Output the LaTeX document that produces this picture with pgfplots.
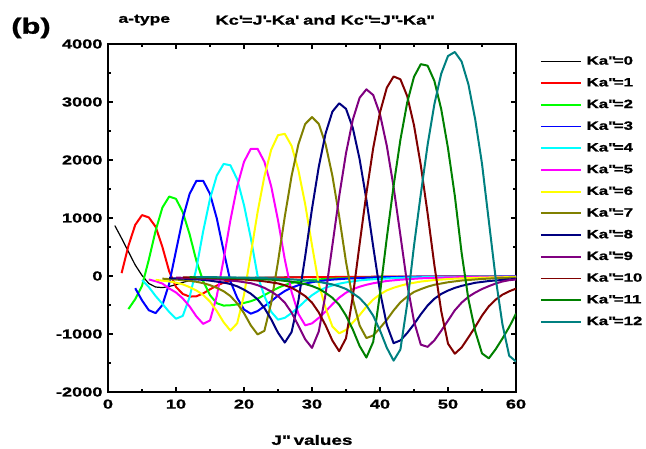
\documentclass[border=0pt]{standalone}
\usepackage{pgfplots}
\pgfplotsset{compat=1.18}
\usepackage{fontspec}
\setmainfont{Liberation Sans}[FakeStretch=1.4, BoldFeatures={FakeBold=1.2}]
\definecolor{kared}{RGB}{255,0,0}
\definecolor{kalime}{RGB}{0,255,0}
\definecolor{kablue}{RGB}{0,0,255}
\definecolor{kacyan}{RGB}{0,255,255}
\definecolor{kamagenta}{RGB}{255,0,255}
\definecolor{kayellow}{RGB}{255,255,0}
\definecolor{kaolive}{RGB}{128,128,0}
\definecolor{kanavy}{RGB}{0,0,128}
\definecolor{kapurple}{RGB}{128,0,128}
\definecolor{kadarkred}{RGB}{128,0,0}
\definecolor{kagreen}{RGB}{0,128,0}
\definecolor{kateal}{RGB}{0,128,128}
\newcommand{\fsz}[1]{\bfseries\fontsize{#1}{#1}\selectfont}
\newcommand{\dq}{\textquotedbl}
\newcommand{\sq}{\textquotesingle}

\begin{document}
\begin{tikzpicture}[x=1bp,y=1bp]
\useasboundingbox (0,0) rectangle (646,449);
\begin{axis}[
  at={(108bp,57bp)}, anchor=south west,
  scale only axis, width=408bp, height=348bp,
  xmin=0, xmax=60, ymin=-2000, ymax=4000,
  xtick={0,10,...,60}, ytick={-2000,-1000,...,4000},
  minor x tick num=1, minor y tick num=1,
  tick align=inside, tick pos=both,
  major tick length=5bp, minor tick length=3bp,
  tick style={black, line width=1.4bp},
  axis line style={line width=1.8bp},
  scaled y ticks=false,
  /pgf/number format/assume math mode=true,
  /pgf/number format/1000 sep={},
  tick label style={font=\fsz{13bp}},
  xticklabel style={yshift=-4bp},
  yticklabel style={xshift=-2bp},
  xlabel={J\dq{} values},
  xlabel style={font=\fsz{13.5bp}, at={(axis description cs:0.5,0)}, anchor=center, yshift=-48bp},
  legend style={at={(1.0507,0.9716)}, anchor=north west, draw=none, fill=none,
    font=\fsz{12bp}, row sep=10.9bp, column sep=5bp,
    nodes={inner sep=0pt, text height=8.6bp, text depth=2.2bp}},
  legend cell align=left,
  legend image code/.code={\draw[#1, line width=1.8bp] (0bp,0bp) -- (40bp,0bp);},
  every axis plot/.append style={line width=2bp, line join=round},
]
\addplot[black, line width=1.2bp] coordinates {(1,870)(2,650)(3,420)(4,190)(5,10)(6,-130)(7,-190)(8,-200)(9,-180)(10,-150)(11,-110)(12,-80)(13,-60)(15,-40)(20,-25)(30,-15)(40,-10)(50,-8)(60,-5)};
\addlegendentry{Ka\dq=0}
\addplot[kared] coordinates {(2,50)(3,520)(4,880)(5,1050)(6,1010)(7,850)(8,500)(9,80)(10,-190)(11,-310)(12,-355)(13,-350)(14,-300)(15,-230)(16,-165)(17,-115)(18,-85)(19,-65)(20,-50)(22,-38)(25,-28)(30,-20)(40,-12)(50,-8)(60,-5)};
\addlegendentry{Ka\dq=1}
\addplot[kalime] coordinates {(3,-570)(4,-400)(5,-170)(6,280)(7,780)(8,1180)(9,1370)(10,1330)(11,1100)(12,720)(13,260)(14,-90)(15,-330)(16,-470)(17,-510)(18,-505)(19,-490)(20,-465)(21,-435)(22,-390)(23,-330)(24,-265)(25,-205)(26,-155)(27,-120)(28,-95)(30,-65)(33,-45)(38,-30)(45,-20)(60,-12)};
\addlegendentry{Ka\dq=2}
\addplot[kablue] coordinates {(4,-210)(5,-420)(6,-590)(7,-640)(8,-500)(9,-130)(10,433)(11,992)(12,1415)(13,1641)(14,1641)(15,1415)(16,992)(17,433)(18,-91)(19,-377)(20,-578)(21,-650)(22,-605)(23,-520)(24,-436)(25,-338)(26,-260)(27,-202)(28,-159)(29,-130)(30,-107)(31,-88)(33,-62)(35,-46)(38,-29)(41,-20)(46,-12)(60,-8)};
\addlegendentry{Ka\dq=3}
\addplot[kacyan] coordinates {(5,-70)(6,-190)(7,-345)(8,-480)(9,-620)(10,-737)(11,-688)(12,-365)(13,132)(14,774)(15,1330)(16,1732)(17,1932)(18,1909)(19,1667)(20,1222)(21,655)(22,0)(23,-345)(24,-617)(25,-752)(26,-722)(27,-638)(28,-540)(29,-429)(30,-331)(31,-255)(32,-201)(33,-163)(34,-133)(35,-110)(37,-76)(39,-56)(42,-36)(45,-24)(50,-14)(60,-10)};
\addlegendentry{Ka\dq=4}
\addplot[kamagenta] coordinates {(6,-60)(7,-90)(8,-130)(9,-215)(10,-284)(11,-387)(12,-525)(13,-697)(14,-826)(15,-765)(16,-344)(17,285)(18,962)(19,1545)(20,1969)(21,2192)(22,2192)(23,1969)(24,1545)(25,962)(26,285)(27,-275)(28,-653)(29,-850)(30,-817)(31,-722)(32,-611)(33,-486)(34,-374)(35,-288)(36,-228)(37,-185)(38,-151)(39,-125)(41,-86)(43,-64)(46,-40)(49,-27)(54,-15)(60,-12)};
\addlegendentry{Ka\dq=5}
\addplot[kayellow] coordinates {(7,-67)(8,-80)(9,-93)(10,-115)(11,-144)(12,-192)(13,-250)(14,-326)(15,-442)(16,-605)(17,-797)(18,-941)(19,-816)(20,-326)(21,378)(22,1102)(23,1719)(24,2176)(25,2428)(26,2451)(27,2243)(28,1825)(29,1235)(30,529)(31,-139)(32,-554)(33,-871)(34,-988)(35,-930)(36,-802)(37,-673)(38,-530)(39,-406)(40,-317)(41,-248)(42,-203)(43,-168)(44,-137)(46,-96)(48,-70)(51,-46)(55,-28)(60,-18)};
\addlegendentry{Ka\dq=6}
\addplot[kaolive] coordinates {(8,-46)(10,-61)(12,-84)(13,-100)(14,-123)(15,-158)(16,-205)(17,-262)(18,-346)(19,-473)(20,-641)(21,-851)(22,-1008)(23,-945)(24,-462)(25,244)(26,1025)(27,1726)(28,2271)(29,2621)(30,2740)(31,2621)(32,2271)(33,1726)(34,1025)(35,244)(36,-400)(37,-853)(38,-1070)(39,-1026)(40,-896)(41,-756)(42,-594)(43,-454)(44,-356)(45,-275)(46,-227)(47,-184)(48,-151)(50,-108)(52,-78)(55,-51)(58,-33)(60,-27)};
\addlegendentry{Ka\dq=7}
\addplot[kanavy] coordinates {(9,-38)(11,-46)(13,-58)(14,-68)(15,-80)(16,-97)(17,-113)(18,-138)(19,-178)(20,-236)(21,-305)(22,-403)(23,-552)(24,-748)(25,-978)(26,-1148)(27,-966)(28,-426)(29,340)(30,1159)(31,1886)(32,2459)(33,2834)(34,2978)(35,2882)(36,2554)(37,2015)(38,1317)(39,507)(40,-269)(41,-842)(42,-1158)(43,-1111)(44,-983)(45,-831)(46,-661)(47,-509)(48,-392)(49,-310)(50,-252)(51,-205)(52,-170)(54,-117)(56,-87)(58,-68)(60,-49)};
\addlegendentry{Ka\dq=8}
\addplot[kapurple] coordinates {(10,-27)(13,-41)(15,-50)(17,-64)(18,-76)(19,-89)(20,-107)(21,-124)(22,-159)(23,-205)(24,-267)(25,-347)(26,-459)(27,-632)(28,-856)(29,-1091)(30,-1240)(31,-955)(32,-310)(33,531)(34,1375)(35,2116)(36,2695)(37,3072)(38,3218)(39,3120)(40,2789)(41,2244)(42,1533)(43,702)(44,-139)(45,-781)(46,-1184)(47,-1222)(48,-1109)(49,-945)(50,-769)(51,-592)(52,-460)(53,-359)(54,-286)(55,-225)(56,-175)(57,-130)(58,-95)(59,-72)(60,-60)};
\addlegendentry{Ka\dq=9}
\addplot[kadarkred] coordinates {(11,-22)(14,-29)(17,-42)(20,-59)(22,-79)(23,-92)(24,-110)(25,-128)(26,-160)(27,-203)(28,-269)(29,-347)(30,-459)(31,-629)(32,-852)(33,-1114)(34,-1297)(35,-1074)(36,-354)(37,549)(38,1425)(39,2205)(40,2822)(41,3246)(42,3440)(43,3391)(44,3102)(45,2598)(46,1908)(47,1080)(48,183)(49,-603)(50,-1166)(51,-1340)(52,-1233)(53,-1059)(54,-878)(55,-683)(56,-523)(57,-409)(58,-322)(59,-264)(60,-217)};
\addlegendentry{Ka\dq=10}
\addplot[kagreen] coordinates {(12,-21)(16,-28)(20,-40)(23,-57)(25,-71)(26,-84)(27,-99)(28,-119)(29,-139)(30,-173)(31,-220)(32,-291)(33,-376)(34,-497)(35,-682)(36,-923)(37,-1207)(38,-1406)(39,-1136)(40,-298)(41,657)(42,1556)(43,2349)(44,2991)(45,3435)(46,3652)(47,3626)(48,3362)(49,2877)(50,2202)(51,1384)(52,400)(53,-400)(54,-951)(55,-1335)(56,-1420)(57,-1264)(58,-1079)(59,-880)(60,-650)};
\addlegendentry{Ka\dq=11}
\addplot[kateal] coordinates {(13,-18)(18,-24)(22,-33)(25,-45)(27,-58)(29,-75)(30,-86)(31,-101)(32,-124)(33,-145)(34,-179)(35,-224)(36,-298)(37,-380)(38,-507)(39,-685)(40,-939)(41,-1237)(42,-1460)(43,-1267)(44,-480)(45,520)(46,1413)(47,2260)(48,2964)(49,3487)(50,3793)(51,3862)(52,3698)(53,3305)(54,2700)(55,1935)(56,950)(57,-30)(58,-830)(59,-1376)(60,-1475)};
\addlegendentry{Ka\dq=12}
\end{axis}
\node[font=\fsz{22bp}] at (31,421) {(b)};
\node[font=\fsz{12.5bp}, anchor=west] at (115,429) {a-type};
\node[font=\fsz{13bp}] at (324,429) {Kc\sq=J\sq-Ka\sq{} and Kc\dq=J\dq-Ka\dq};
\end{tikzpicture}
\end{document}
